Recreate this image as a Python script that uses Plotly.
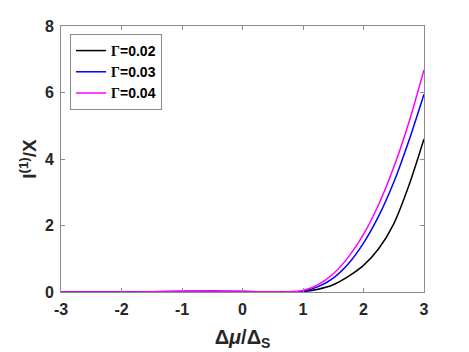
import plotly.graph_objects as go

# Delta mu / Delta_S grid
x_vals = [-3, -2.5, -2, -1.5, -1, -0.5, 0, 0.5, 0.75, 1.0, 1.25, 1.5, 1.75, 2.0, 2.25, 2.5, 2.75, 3.0]

# I^(1)/chi for each broadening
y_g002 = [0, 0, 0, 0.005, 0.015, 0.02, 0.012, 0.003, 0.002, 0.015, 0.085, 0.22, 0.47, 0.8, 1.3, 2.05, 3.2, 4.6]
y_g003 = [0, 0, 0, 0.005, 0.018, 0.022, 0.014, 0.004, 0.004, 0.025, 0.16, 0.42, 0.85, 1.47, 2.28, 3.3, 4.55, 5.95]
y_g004 = [0, 0, 0, 0.006, 0.02, 0.025, 0.016, 0.005, 0.006, 0.044, 0.22, 0.55, 1.05, 1.73, 2.63, 3.75, 5.1, 6.68]

gammas = ["0.02", "0.03", "0.04"]
series_colors = ["#000000", "#0000ff", "#ff00ff"]

# tick labels (plain hyphen, as in the original)
x_ticks = [-3, -2, -1, 0, 1, 2, 3]
x_ticktext = ["-3", "-2", "-1", "0", "1", "2", "3"]
y_ticks = [0, 2, 4, 6, 8]

fig = go.Figure()
for g, ys, col in zip(gammas, [y_g002, y_g003, y_g004], series_colors):
    fig.add_trace(
        go.Scatter(
            x=x_vals,
            y=ys,
            mode="lines",
            name="<span style='font-family:Liberation Serif'>Γ</span>=" + g,
            line=dict(color=col, width=1.5, shape="spline", smoothing=0.8),
        )
    )

axis_style = dict(
    showline=True,
    mirror="ticks",
    linecolor="#8c8c8c",
    linewidth=1,
    ticks="inside",
    ticklen=4,
    tickcolor="#8c8c8c",
    showgrid=False,
    zeroline=False,
    automargin=False,
    ticklabelstandoff=3,
    tickfont=dict(family="Liberation Sans, Arial", size=16, color="#262626", weight="bold"),
)

# the page body adds ~8px offset, so the figure is a bit smaller than the window
fig.update_layout(
    width=461,
    height=344,
    margin=dict(l=53, r=45, t=18, b=60),
    paper_bgcolor="white",
    plot_bgcolor="white",
    font=dict(family="Liberation Sans, Arial", color="#262626"),
    xaxis=dict(
        range=[-3, 3],
        tickvals=x_ticks,
        ticktext=x_ticktext,
        title=dict(
            text="<b>Δ<i>μ</i>/Δ<sub>S</sub></b>",
            font=dict(size=20),
            standoff=12,
        ),
        **axis_style,
    ),
    yaxis=dict(
        range=[0, 8],
        tickvals=y_ticks,
        title=dict(
            text="<b>I<sup>(1)</sup>/X</b>",
            font=dict(size=19),
            standoff=3,
        ),
        **axis_style,
    ),
    legend=dict(
        x=0.025,
        y=0.97,
        xanchor="left",
        yanchor="top",
        bgcolor="white",
        bordercolor="#8c8c8c",
        borderwidth=1,
        font=dict(size=14, color="#000000", weight="bold"),
        tracegroupgap=0,
        itemwidth=30,
    ),
    showlegend=True,
)

fig.write_html("out.html")
